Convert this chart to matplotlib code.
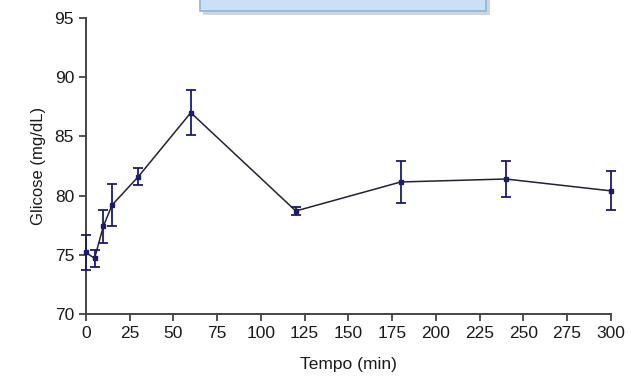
import matplotlib.pyplot as plt
from matplotlib.patches import Rectangle

tempo = [0, 5, 10, 15, 30, 60, 120, 180, 240, 300]
glicose = [75.2, 74.7, 77.4, 79.2, 81.6, 87.0, 78.7, 81.15, 81.4, 80.4]
erro = [1.5, 0.7, 1.4, 1.8, 0.7, 1.9, 0.3, 1.75, 1.5, 1.65]

plt.rcParams['font.family'] = ['Liberation Sans', 'DejaVu Sans']

fig = plt.figure(figsize=(6.31, 3.82), dpi=100)
ax = fig.add_axes([0.136, 0.178, 0.832, 0.775])

ax.plot(tempo, glicose, color='#222233', linewidth=1.1, zorder=2)
ax.errorbar(tempo, glicose, yerr=erro, fmt='s', color='#1a1a6e', markersize=3.5,
            ecolor='#1a1a6e', elinewidth=1.3, capsize=3.5, capthick=1.3,
            zorder=3, clip_on=False)

ax.set_xlim(0, 300)
ax.set_ylim(70, 95)
ax.set_xticks(range(0, 301, 25))
ax.set_yticks(range(70, 96, 5))
ax.tick_params(direction='out', length=5, width=1.2, labelsize=12.5,
               colors='#333333', labelcolor='#1a1a1a')
for s in ['top', 'right']:
    ax.spines[s].set_visible(False)
for s in ['left', 'bottom']:
    ax.spines[s].set_color('#444444')
    ax.spines[s].set_linewidth(1.4)

ax.set_xlabel('Tempo (min)', fontsize=12.5, color='#1a1a1a', labelpad=12)
ax.set_ylabel('Glicose (mg/dL)', fontsize=12, color='#1a1a1a', labelpad=6)

# caixa azul cortada no topo
fig.patches.append(Rectangle((203 / 631, 1 - 15 / 382), 287 / 631, 20 / 382,
                             transform=fig.transFigure, facecolor='#b0b8c4',
                             edgecolor='none', alpha=0.6, zorder=0))
fig.patches.append(Rectangle((200 / 631, 1 - 11 / 382), 286 / 631, 15 / 382,
                             transform=fig.transFigure, facecolor='#c9e0f6',
                             edgecolor='#8fb3da', linewidth=1.2, zorder=1))

fig.savefig('out.png', dpi=100)
